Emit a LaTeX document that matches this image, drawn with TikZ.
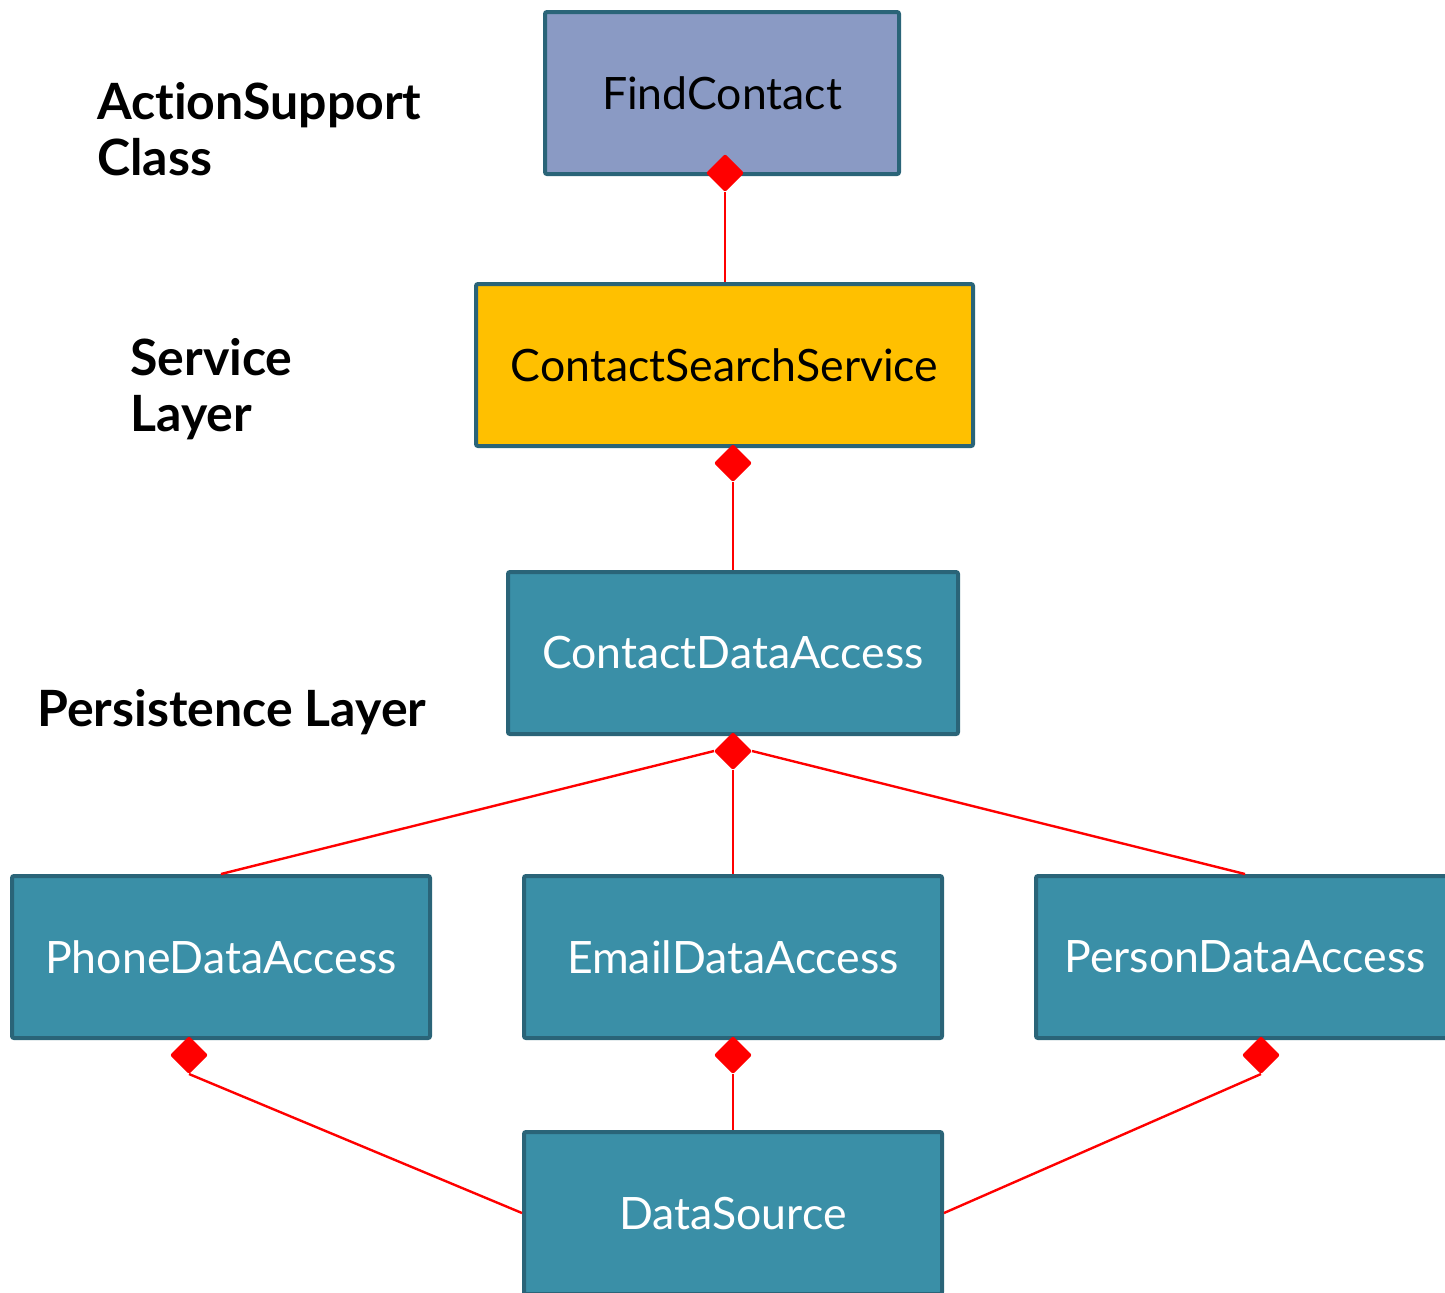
\documentclass[tikz,border=0pt]{standalone}
\usepackage{fontspec}
\setmainfont{Lato}[Ligatures=NoCommon]
\usetikzlibrary{shapes.geometric}
\definecolor{boxedge}{HTML}{2A6478}
\definecolor{tealfill}{HTML}{3A8FA7}
\definecolor{lavender}{HTML}{8A9AC4}
\definecolor{amber}{HTML}{FFC000}
\begin{document}
\begin{tikzpicture}[x=0.5pt, y=-0.5pt,
  box/.style={draw=boxedge, line width=2pt, rounded corners=1pt, minimum height=81pt, inner sep=0pt, font=\fontsize{22.3}{26}\selectfont},
  tealbox/.style={box, fill=tealfill, text=white, minimum width=209pt},
  diam/.style={diamond, fill=red, inner sep=0pt, outer sep=0pt, minimum size=19pt, rounded corners=1pt},
  link/.style={red, line width=1.2pt},
  layer/.style={anchor=base west, align=left, inner sep=0pt, font=\fontsize{25}{28}\selectfont\bfseries}]
\useasboundingbox (0, 0) rectangle (1445, 1292);
\clip (0, 0) rectangle (1445, 1292);
%Layer labels
\node[layer] (lblaction) at (97, 175) {ActionSupport\\Class};
\node[layer] (lblservice) at (130, 431) {Service\\Layer};
\node[layer] (lblpersist) at (37, 726) {Persistence Layer};
%Boxes
\node[box, fill=lavender, minimum width=177pt] (fc) at (722, 93) {FindContact};
\node[box, fill=amber, minimum width=248.5pt] (css) at (724.5, 365) {ContactSearchService};
\node[tealbox, minimum width=225pt] (cda) at (733, 653) {ContactDataAccess};
\node[tealbox] (ph) at (221, 957) {PhoneDataAccess};
\node[tealbox] (em) at (733, 957) {EmailDataAccess};
\node[tealbox] (pe) at (1245, 957) {PersonDataAccess};
\node[tealbox] (ds) at (733, 1213) {DataSource};
%Diamonds
\node[diam] (fcD) at ([xshift=1.5pt, yshift=1.5pt]fc.south) {};
\node[diam, anchor=north] (cssD) at ([yshift=2pt]cda.north |- css.south) {};
\node[diam, anchor=north] (cdaD) at ([yshift=2pt]cda.south) {};
\node[diam, anchor=north] (phD) at ([xshift=-16pt, yshift=2pt]ph.south) {};
\node[diam, anchor=north] (emD) at ([yshift=2pt]em.south) {};
\node[diam, anchor=north] (peD) at ([xshift=8pt, yshift=2pt]pe.south) {};
%Links
\draw[link] (fcD.south) -- (fcD.south |- css.north);
\draw[link] (cssD.south) -- (cda.north);
\draw[link] (cdaD.west) -- (ph.north);
\draw[link] (cdaD.south) -- (em.north);
\draw[link] (cdaD.east) -- (pe.north);
\draw[link] (phD.south) -- (ds.west);
\draw[link] (emD.south) -- (ds.north);
\draw[link] (peD.south) -- (ds.east);
\end{tikzpicture}
\end{document}
